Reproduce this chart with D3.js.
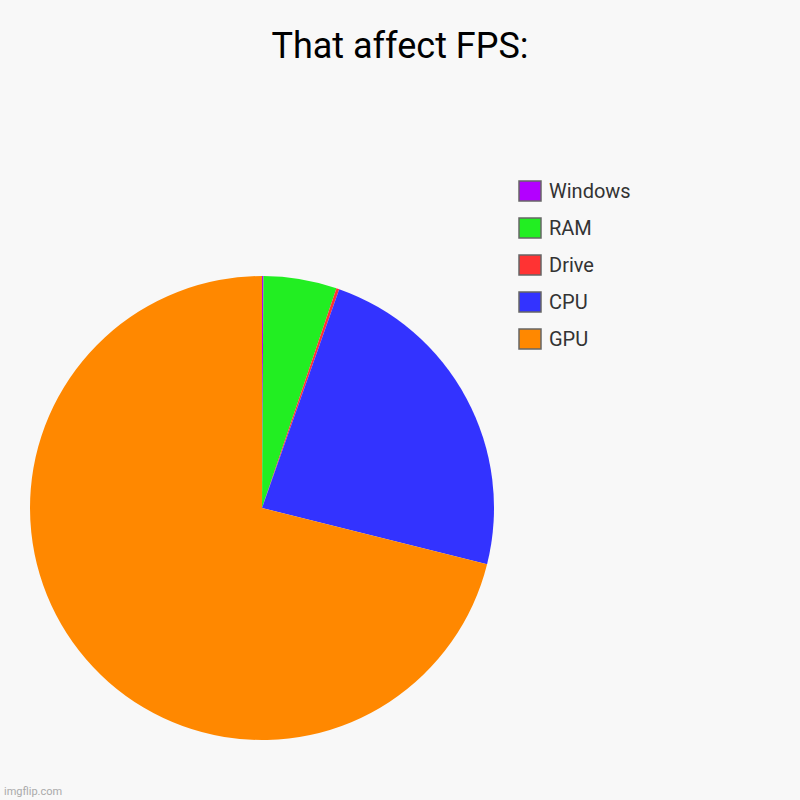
<!DOCTYPE html>
<html><head><meta charset="utf-8">
<script src="https://cdn.jsdelivr.net/npm/d3@7"></script>
<style>body{margin:0;background:#f8f8f8}</style></head>
<body><svg id="c" width="800" height="800"></svg>
<script>
const categories = ["Windows","RAM","Drive","CPU","GPU"];
const values = [0.1, 5.1, 0.2, 23.5, 71.1];
const colors = ["#b300ff","#22ee22","#ff3333","#3333ff","#ff8800"];
const legendOrder = ["Windows","RAM","Drive","CPU","GPU"];

const svg = d3.select("#c");
svg.append("rect").attr("width",800).attr("height",800).attr("fill","#f8f8f8");
svg.append("text").attr("x",400).attr("y",58).attr("text-anchor","middle")
  .attr("font-family","Roboto").attr("font-size",36).attr("fill","#000").text("That affect FPS:");

const pie = d3.pie().sort(null).value(d=>d.v);
const arc = d3.arc().innerRadius(0).outerRadius(232);
const g = svg.append("g").attr("transform","translate(262,508)");
g.selectAll("path").data(pie(categories.map((c,i)=>({c,v:values[i],col:colors[i]}))))
  .join("path").attr("d",arc).attr("fill",d=>d.data.col);

const lg = svg.append("g").attr("transform","translate(519,181)");
legendOrder.forEach((name,i)=>{
  const idx = categories.indexOf(name);
  const y = i*37;
  lg.append("rect").attr("x",0).attr("y",y).attr("width",22).attr("height",20)
    .attr("fill",colors[idx]).attr("stroke","#666").attr("stroke-width",1.5);
  lg.append("text").attr("x",30).attr("y",y+17).attr("font-family","Roboto")
    .attr("font-size",20).attr("fill","#333").text(name);
});
svg.append("text").attr("x",4).attr("y",795).attr("font-family","Roboto")
  .attr("font-size",11).attr("fill","#aaa").text("imgflip.com");
</script></body></html>
